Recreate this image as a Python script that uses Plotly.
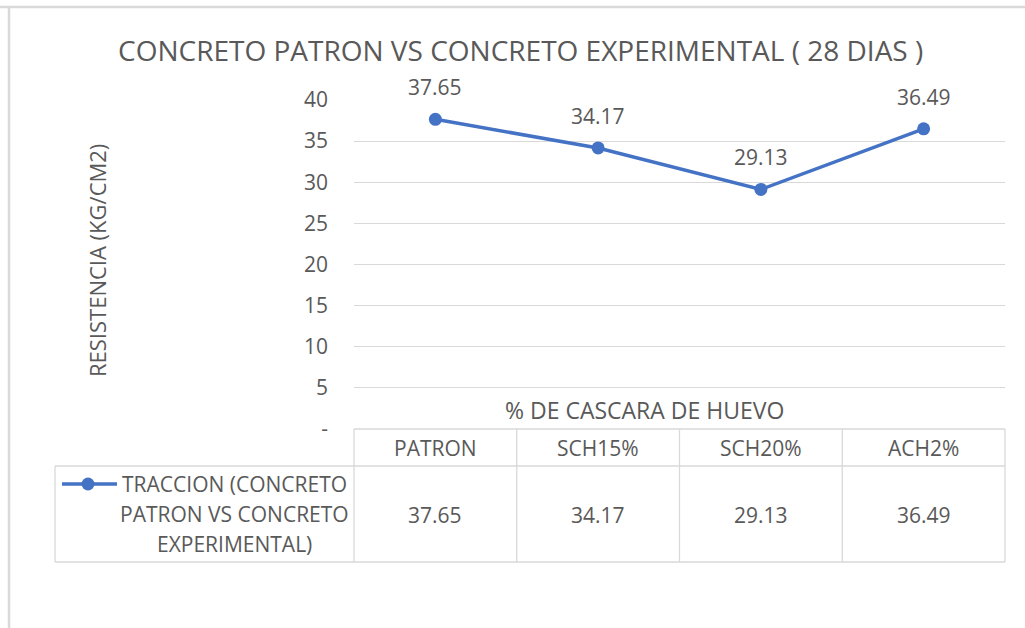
import plotly.graph_objects as go

categories = ["PATRON", "SCH15%", "SCH20%", "ACH2%"]
values = [37.65, 34.17, 29.13, 36.49]
value_labels = ["37.65", "34.17", "29.13", "36.49"]
y_ticks = [0, 5, 10, 15, 20, 25, 30, 35, 40]
y_tick_text = ["-", "5", "10", "15", "20", "25", "30", "35", "40"]
series_lines = ["TRACCION (CONCRETO", "PATRON VS CONCRETO", "EXPERIMENTAL)"]
title_text = "CONCRETO PATRON VS CONCRETO EXPERIMENTAL ( 28 DIAS )"
x_title = "% DE CASCARA DE HUEVO"
y_title = "RESISTENCIA (KG/CM2)"

W, H = 1025, 628
L, R, T, B = 354, 20, 100, 199
PW = W - L - R
PH = H - T - B
FONT = "Open Sans"
TXT = "#595959"
GRID = "#D9D9D9"
BLUE = "#4472C4"


def px(x):
    return (x - L) / PW


def py(y):
    return (H - B - y) / PH


def note(x, y, text, size, xref="paper", yref="paper", **kw):
    d = dict(x=x, y=y, xref=xref, yref=yref, text=text, showarrow=False,
             xanchor="center", yanchor="middle",
             font=dict(family=FONT, size=size, color=TXT))
    d.update(kw)
    return d


fig = go.Figure()
fig.add_trace(go.Scatter(
    x=categories, y=values, mode="lines+markers",
    line=dict(color=BLUE, width=3.5),
    marker=dict(color=BLUE, size=13),
    cliponaxis=False, showlegend=False, hoverinfo="skip",
))

annotations = []
for c, v, t in zip(categories, values, value_labels):
    annotations.append(note(c, v, t, 21, xref="x", yref="y", yshift=32))

shapes = []
n = len(categories)
row0_top, row0_bot, row1_bot = 429, 466, 562
left_edge = 55
lw = 1.3
shapes.append(dict(type="line", xref="paper", yref="paper", x0=0, x1=1,
                   y0=py(row0_top), y1=py(row0_top), line=dict(color=GRID, width=lw)))
shapes.append(dict(type="line", xref="paper", yref="paper", x0=px(left_edge), x1=1,
                   y0=py(row0_bot), y1=py(row0_bot), line=dict(color=GRID, width=lw)))
shapes.append(dict(type="line", xref="paper", yref="paper", x0=px(left_edge), x1=1,
                   y0=py(row1_bot), y1=py(row1_bot), line=dict(color=GRID, width=lw)))
shapes.append(dict(type="line", xref="paper", yref="paper", x0=px(left_edge), x1=px(left_edge),
                   y0=py(row0_bot), y1=py(row1_bot), line=dict(color=GRID, width=lw)))
for i in range(n + 1):
    xp = i / n
    shapes.append(dict(type="line", xref="paper", yref="paper", x0=xp, x1=xp,
                       y0=py(row0_top), y1=py(row1_bot), line=dict(color=GRID, width=lw)))

for i, c in enumerate(categories):
    annotations.append(note(c, py(448), c, 21, xref="x"))
    annotations.append(note(c, py(515), value_labels[i], 21, xref="x"))

# legend key
shapes.append(dict(type="line", xref="paper", yref="paper", x0=px(62), x1=px(117),
                   y0=py(484), y1=py(484), line=dict(color=BLUE, width=3.5)))
shapes.append(dict(type="circle", xref="paper", yref="paper", x0=px(81.5), x1=px(94.5),
                   y0=py(477.5), y1=py(490.5), fillcolor=BLUE, line=dict(color=BLUE, width=0)))
for k, line in enumerate(series_lines):
    annotations.append(note(px(234), py(484 + 30 * k), line, 21))

# axis titles
annotations.append(note(px(644), py(410), x_title, 23))
annotations.append(note(px(97), py(261), y_title, 22, textangle=-90))
# title
annotations.append(note(px(520.5), py(50), title_text, 28))

# chart frame
shapes.append(dict(type="line", xref="paper", yref="paper", x0=px(0), x1=px(W),
                   y0=py(7), y1=py(7), line=dict(color=GRID, width=2.5)))
shapes.append(dict(type="line", xref="paper", yref="paper", x0=px(9), x1=px(9),
                   y0=py(7), y1=py(H), line=dict(color=GRID, width=2.5)))

fig.update_layout(
    width=W, height=H,
    margin=dict(l=L, r=R, t=T, b=B),
    paper_bgcolor="white", plot_bgcolor="white",
    xaxis=dict(type="category", range=[-0.5, n - 0.5], showticklabels=False,
               showgrid=False, zeroline=False, showline=False, fixedrange=True),
    yaxis=dict(range=[0, 40], tickvals=y_ticks, ticktext=y_tick_text,
               showgrid=True, gridcolor=GRID, gridwidth=lw, zeroline=False, showline=False,
               tickfont=dict(family=FONT, size=21, color=TXT), ticklabelstandoff=25,
               fixedrange=True),
    annotations=annotations,
    shapes=shapes,
    showlegend=False,
)

fig.write_html("out.html", config={"displayModeBar": False},
               post_script="document.body.style.margin='0';")
